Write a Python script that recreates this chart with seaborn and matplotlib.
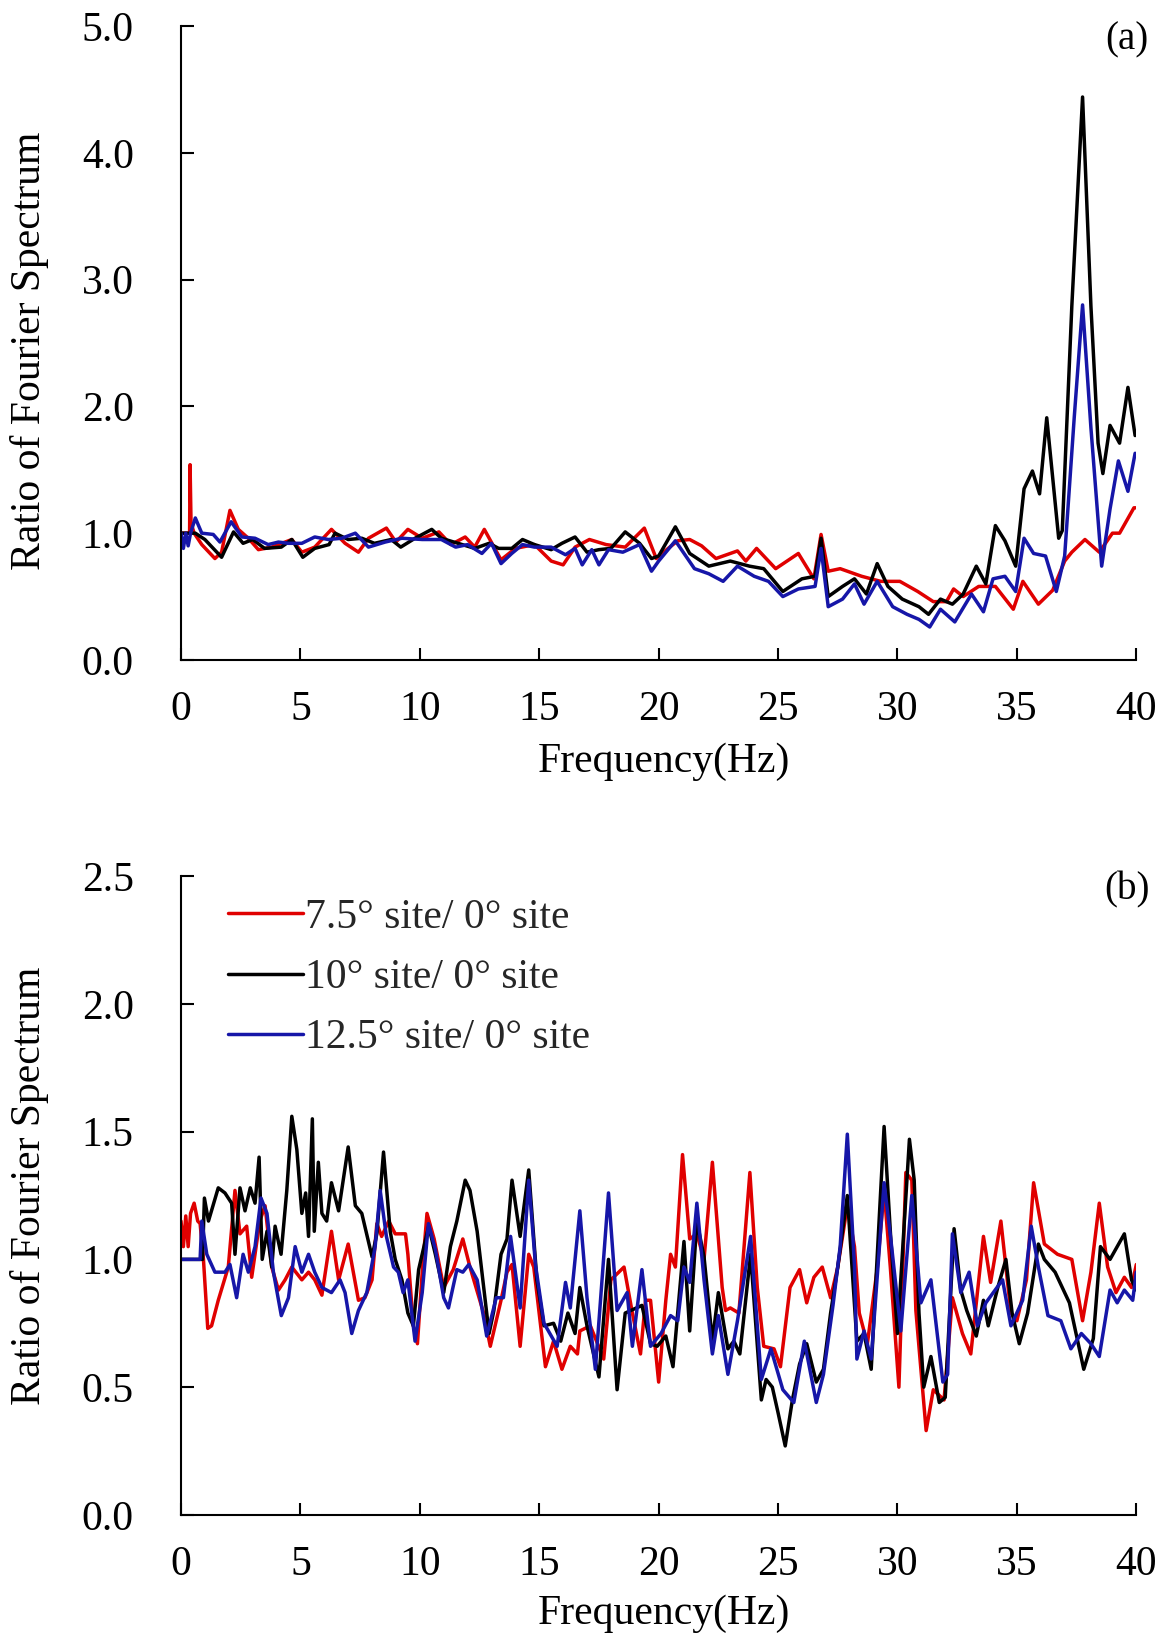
import numpy as np
import pandas as pd
import matplotlib
matplotlib.use("Agg")
import matplotlib.pyplot as plt
import seaborn as sns

# ---------------- data ----------------
series_names = ["7.5\u00b0 site/ 0\u00b0 site", "10\u00b0 site/ 0\u00b0 site", "12.5\u00b0 site/ 0\u00b0 site"]
series_colors = ["#e00000", "#000000", "#1616a8"]

# panel (a)
a_red_f = [0, 0.36, 0.38, 0.42, 0.55, 0.87, 1.42, 1.7, 2.05, 2.4, 2.82, 3.24, 3.8, 4.64, 5.06, 5.6, 6.3, 6.87, 7.43, 7.85,
           8.6, 9.0, 9.5, 10.1, 10.8, 11.3, 11.9, 12.3, 12.7, 13.4, 14.0, 14.8, 15.5, 16.0, 16.5, 17.1, 17.8, 18.6, 19.4, 19.9,
           20.4, 20.8, 21.3, 21.8, 22.4, 23.3, 23.65, 24.1, 24.9, 25.85, 26.5, 26.8, 27.1, 27.6, 28.5, 29.3, 30.1, 30.85, 31.5,
           32.05, 32.35, 32.75, 33.4, 34.1, 34.85, 35.25, 35.9, 36.5, 37.0, 37.3, 37.85, 38.45, 39.0, 39.3, 39.9, 40.0]
a_red_v = [1.0, 1.0, 1.54, 1.08, 1.0, 0.91, 0.80, 0.85, 1.18, 1.03, 0.96, 0.87, 0.89, 0.95, 0.85, 0.89, 1.03, 0.92, 0.85, 0.96,
           1.04, 0.93, 1.03, 0.96, 1.01, 0.91, 0.97, 0.89, 1.03, 0.79, 0.88, 0.91, 0.78, 0.75, 0.89, 0.95, 0.91, 0.89, 1.04, 0.80,
           0.88, 0.94, 0.95, 0.90, 0.80, 0.86, 0.78, 0.88, 0.72, 0.84, 0.64, 0.99, 0.70, 0.72, 0.66, 0.62, 0.62, 0.54, 0.46,
           0.46, 0.56, 0.50, 0.58, 0.58, 0.40, 0.62, 0.44, 0.55, 0.78, 0.85, 0.95, 0.85, 1.0, 1.0, 1.2, 1.2]

a_blk_f = [0, 0.6, 1.0, 1.7, 2.2, 2.6, 3.0, 3.5, 4.2, 4.64, 5.1, 5.6, 6.2, 6.45, 7.0, 7.57, 8.1, 8.8, 9.2, 9.8, 10.5, 10.9,
           11.6, 12.3, 12.9, 13.3, 13.85, 14.3, 14.8, 15.5, 15.95, 16.5, 17.0, 17.5, 18.0, 18.6, 19.2, 19.7, 20.0, 20.7, 21.3,
           22.1, 23.0, 23.8, 24.4, 25.2, 26.0, 26.55, 26.8, 27.1, 27.7, 28.2, 28.7, 29.15, 29.6, 30.2, 30.9, 31.3, 31.8, 32.3,
           32.75, 33.3, 33.7, 34.1, 34.5, 34.95, 35.3, 35.65, 35.95, 36.25, 36.75, 36.9, 37.3, 37.75, 38.1, 38.4, 38.6, 38.9,
           39.3, 39.65, 39.95]
a_blk_v = [1.0, 1.0, 0.95, 0.81, 1.01, 0.92, 0.95, 0.88, 0.89, 0.95, 0.81, 0.88, 0.91, 1.0, 0.95, 0.96, 0.92, 0.95, 0.89, 0.96,
           1.03, 0.96, 0.92, 0.88, 0.92, 0.88, 0.88, 0.95, 0.91, 0.87, 0.92, 0.97, 0.85, 0.87, 0.88, 1.01, 0.92, 0.80, 0.82, 1.05,
           0.84, 0.74, 0.78, 0.74, 0.72, 0.54, 0.64, 0.66, 0.96, 0.50, 0.58, 0.64, 0.52, 0.76, 0.58, 0.48, 0.42, 0.36, 0.48, 0.44,
           0.52, 0.74, 0.60, 1.06, 0.94, 0.74, 1.35, 1.49, 1.31, 1.91, 0.96, 1.02, 2.79, 4.44, 2.79, 1.71, 1.47, 1.85, 1.71, 2.15,
           1.77]

a_blu_f = [0, 0.1, 0.2, 0.3, 0.4, 0.6, 0.87, 1.35, 1.63, 2.1, 2.55, 3.1, 3.65, 4.08, 4.5, 5.06, 5.6, 6.17, 6.73, 7.3, 7.85,
           8.55, 9.25, 10.1, 10.9, 11.5, 12.0, 12.6, 13.0, 13.4, 13.85, 14.3, 14.8, 15.5, 16.1, 16.5, 16.8, 17.2, 17.5, 17.9,
           18.5, 19.2, 19.7, 20.0, 20.7, 21.5, 22.1, 22.7, 23.3, 24.0, 24.6, 25.2, 25.85, 26.55, 26.8, 27.1, 27.7, 28.2, 28.6,
           29.15, 29.8, 30.4, 30.9, 31.35, 31.8, 32.4, 33.1, 33.6, 34.0, 34.5, 34.95, 35.3, 35.7, 36.2, 36.65, 37.0, 37.4,
           37.75, 38.1, 38.55, 38.9, 39.25, 39.65, 39.95]
a_blu_v = [1.0, 0.88, 1.0, 0.90, 1.0, 1.12, 1.0, 0.99, 0.93, 1.09, 0.97, 0.96, 0.91, 0.93, 0.92, 0.92, 0.97, 0.95, 0.96, 1.0,
           0.89, 0.93, 0.96, 0.95, 0.95, 0.89, 0.91, 0.84, 0.92, 0.76, 0.84, 0.91, 0.89, 0.89, 0.83, 0.88, 0.75, 0.87, 0.75, 0.87,
           0.85, 0.91, 0.70, 0.78, 0.94, 0.72, 0.68, 0.62, 0.74, 0.66, 0.62, 0.50, 0.56, 0.58, 0.88, 0.42, 0.48, 0.60, 0.44,
           0.62, 0.42, 0.36, 0.32, 0.26, 0.40, 0.30, 0.52, 0.38, 0.64, 0.66, 0.54, 0.96, 0.84, 0.82, 0.54, 0.82, 1.91,
           2.80, 1.83, 0.74, 1.19, 1.57, 1.33, 1.63]

# panel (b)
b_red_f = [0, 0.1, 0.2, 0.3, 0.4, 0.55, 0.7, 0.8, 0.94, 1.12, 1.28, 1.56, 1.98, 2.26, 2.47, 2.75, 2.96, 3.3, 3.52, 3.8, 4.08,
           4.36, 4.64, 5.06, 5.34, 5.6, 5.9, 6.3, 6.6, 7.0, 7.43, 7.7, 8.0, 8.2, 8.4, 8.7, 8.97, 9.4, 9.5, 9.73, 9.9, 10.1, 10.3,
           10.6, 11.0, 11.4, 11.8, 12.1, 12.67, 12.95, 13.4, 13.65, 13.86, 14.2, 14.56, 14.77, 15.26, 15.6, 15.95, 16.3, 16.6,
           16.7, 17.14, 17.4, 17.7, 18.0, 18.55, 18.9, 19.24, 19.45, 19.66, 20.0, 20.3, 20.5, 20.7, 21.0, 21.3, 21.6, 21.9,
           22.25, 22.66, 22.8, 23.0, 23.36, 23.82, 24.13, 24.4, 24.83, 25.1, 25.5, 25.9, 26.2, 26.5, 26.85, 27.2, 27.5, 27.9,
           28.2, 28.4, 28.74, 29.16, 29.44, 29.7, 30.06, 30.35, 30.6, 30.77, 31.2, 31.5, 31.95, 32.3, 32.72, 33.07, 33.6, 33.9,
           34.33, 34.75, 35.0, 35.4, 35.7, 36.15, 36.7, 37.3, 37.75, 38.1, 38.45, 38.8, 39.15, 39.5, 39.8, 40.0]
b_red_v = [1.15, 1.05, 1.17, 1.05, 1.18, 1.22, 1.15, 1.14, 1.0, 0.73, 0.74, 0.84, 0.97, 1.27, 1.10, 1.13, 0.93, 1.15, 1.21, 0.97,
           0.88, 0.92, 0.97, 0.92, 0.95, 0.92, 0.86, 1.11, 0.92, 1.06, 0.84, 0.85, 0.92, 1.14, 1.09, 1.15, 1.10, 1.10, 1.02, 0.74,
           0.67, 0.95, 1.18, 1.08, 0.89, 0.96, 1.08, 0.97, 0.79, 0.66, 0.84, 0.95, 0.98, 0.66, 1.02, 0.97, 0.58, 0.68, 0.57,
           0.66, 0.63, 0.72, 0.74, 0.68, 0.61, 0.92, 0.97, 0.79, 0.63, 0.84, 0.84, 0.52, 0.84, 1.02, 0.97, 1.41, 1.08, 1.10,
           1.0, 1.38, 0.89, 0.80, 0.81, 0.79, 1.34, 0.89, 0.66, 0.65, 0.58, 0.89, 0.96, 0.83, 0.93, 0.97, 0.85, 0.97, 1.21,
           1.05, 0.79, 0.67, 0.97, 1.27, 0.97, 0.50, 1.34, 1.31, 0.80, 0.33, 0.49, 0.45, 0.85, 0.71, 0.63, 1.09, 0.91, 1.15,
           0.79, 0.76, 0.92, 1.30, 1.06, 1.02, 1.0, 0.76, 0.95, 1.22, 0.97, 0.87, 0.93, 0.89, 0.98]

b_blk_f = [0, 0.9, 0.98, 1.15, 1.56, 1.84, 2.12, 2.26, 2.47, 2.68, 2.9, 3.1, 3.27, 3.4, 3.6, 3.8, 3.94, 4.19, 4.43, 4.64, 4.85,
           5.06, 5.22, 5.34, 5.5, 5.58, 5.75, 5.9, 6.1, 6.3, 6.6, 7.0, 7.3, 7.57, 8.0, 8.2, 8.48, 8.76, 8.97, 9.25, 9.5, 9.73,
           9.95, 10.37, 10.65, 11.0, 11.28, 11.55, 11.9, 12.1, 12.4, 12.9, 13.1, 13.4, 13.65, 13.86, 14.2, 14.56, 14.9, 15.2,
           15.6, 15.9, 16.2, 16.5, 16.7, 17.0, 17.5, 17.9, 18.26, 18.6, 19.3, 19.66, 19.94, 20.3, 20.6, 21.06, 21.3, 21.6,
           21.9, 22.25, 22.5, 22.9, 23.15, 23.4, 23.85, 24.3, 24.5, 24.76, 25.0, 25.3, 25.6, 25.9, 26.2, 26.6, 26.9, 27.2,
           27.5, 27.9, 28.3, 28.6, 28.9, 29.44, 29.72, 30.0, 30.5, 30.7, 30.9, 31.1, 31.4, 31.75, 32.0, 32.37, 32.65, 32.9,
           33.3, 33.6, 33.8, 34.2, 34.54, 34.8, 35.1, 35.45, 35.9, 36.15, 36.6, 37.2, 37.8, 38.2, 38.5, 38.9, 39.5, 39.8, 40.0]
b_blk_v = [1.0, 1.0, 1.24, 1.15, 1.28, 1.26, 1.22, 1.02, 1.28, 1.19, 1.28, 1.22, 1.40, 1.0, 1.11, 0.97, 1.13, 1.02, 1.27, 1.56,
           1.43, 1.18, 1.26, 1.09, 1.55, 1.11, 1.38, 1.18, 1.15, 1.30, 1.19, 1.44, 1.21, 1.18, 1.01, 1.10, 1.42, 1.11, 1.0, 0.92,
           0.79, 0.74, 0.96, 1.13, 1.02, 0.87, 1.05, 1.15, 1.31, 1.27, 1.11, 0.71, 0.80, 1.02, 1.08, 1.31, 1.09, 1.35, 0.92, 0.74,
           0.75, 0.68, 0.79, 0.71, 0.89, 0.74, 0.54, 1.0, 0.49, 0.79, 0.82, 0.67, 0.66, 0.70, 0.58, 1.07, 0.72, 1.15,
           1.01, 0.68, 0.87, 0.65, 0.68, 0.63, 1.02, 0.45, 0.53, 0.50, 0.40, 0.27, 0.45, 0.59, 0.67, 0.52, 0.57, 0.79,
           0.97, 1.25, 0.68, 0.71, 0.57, 1.52, 1.08, 0.71, 1.47, 1.31, 0.79, 0.50, 0.62, 0.44, 0.46, 1.12, 0.88, 0.80,
           0.70, 0.84, 0.74, 0.89, 1.0, 0.79, 0.67, 0.79, 1.06, 1.0, 0.95, 0.83, 0.57, 0.69, 1.05, 1.0, 1.10, 0.92, 0.88]

b_blu_f = [0, 0.8, 0.87, 1.08, 1.42, 1.84, 2.05, 2.33, 2.6, 2.82, 3.1, 3.35, 3.6, 3.87, 4.2, 4.5, 4.78, 5.06, 5.34, 5.6, 5.9,
           6.3, 6.66, 6.87, 7.15, 7.43, 7.78, 8.13, 8.34, 8.6, 8.9, 9.1, 9.3, 9.5, 9.8, 10.1, 10.36, 10.65, 11.0, 11.2, 11.55,
           11.8, 12.05, 12.4, 12.8, 13.2, 13.5, 13.8, 14.2, 14.56, 14.84, 15.2, 15.75, 16.1, 16.3, 16.7, 17.0, 17.35, 17.9,
           18.26, 18.68, 18.9, 19.3, 19.66, 20.1, 20.5, 20.8, 21.06, 21.3, 21.6, 21.9, 22.25, 22.5, 22.9, 23.3, 23.85, 24.3,
           24.7, 25.2, 25.66, 26.1, 26.6, 26.9, 27.3, 27.6, 27.9, 28.2, 28.3, 28.6, 28.9, 29.44, 29.72, 30.14, 30.6, 30.98,
           31.4, 31.9, 32.1, 32.3, 32.65, 33.0, 33.35, 33.7, 34.4, 34.75, 35.24, 35.6, 35.9, 36.3, 36.84, 37.26, 37.7, 38.1,
           38.45, 38.9, 39.2, 39.5, 39.85, 40.0]
b_blu_v = [1.0, 1.0, 1.15, 1.02, 0.95, 0.95, 0.98, 0.85, 1.02, 0.95, 1.05, 1.24, 1.18, 0.95, 0.78, 0.85, 1.05, 0.95, 1.02, 0.95,
           0.89, 0.87, 0.92, 0.87, 0.71, 0.80, 0.87, 1.05, 1.27, 1.09, 0.97, 0.95, 0.87, 0.92, 0.68, 0.87, 1.14, 1.04, 0.85, 0.81,
           0.96, 0.95, 0.98, 0.92, 0.70, 0.85, 0.85, 1.09, 0.81, 1.31, 0.98, 0.75, 0.66, 0.91, 0.81, 1.19, 0.85, 0.57, 1.26,
           0.80, 0.87, 0.66, 0.96, 0.66, 0.71, 0.78, 0.76, 0.97, 0.91, 1.22, 0.92, 0.63, 0.78, 0.55, 0.76, 1.09, 0.53,
           0.65, 0.49, 0.44, 0.68, 0.44, 0.55, 0.82, 1.05, 1.49, 0.97, 0.61, 0.72, 0.61, 1.30, 1.08, 0.72, 1.25, 0.83,
           0.92, 0.52, 0.55, 1.10, 0.87, 0.95, 0.74, 0.83, 0.92, 0.74, 0.84, 1.13, 0.97, 0.78, 0.76, 0.65, 0.71, 0.67,
           0.62, 0.88, 0.83, 0.88, 0.84, 0.95]

x_ticks = [0, 5, 10, 15, 20, 25, 30, 35, 40]
a_y_ticks = [0.0, 1.0, 2.0, 3.0, 4.0, 5.0]
b_y_ticks = [0.0, 0.5, 1.0, 1.5, 2.0, 2.5]
x_label = "Frequency(Hz)"
y_label = "Ratio of Fourier Spectrum"
panel_tags = ["(a)", "(b)"]


def make_df(fs, vs):
    parts = []
    for name, f, v in zip(series_names, fs, vs):
        parts.append(pd.DataFrame({"f": f, "v": v, "series": name}))
    return pd.concat(parts, ignore_index=True)


df_a = make_df([a_red_f, a_blk_f, a_blu_f], [a_red_v, a_blk_v, a_blu_v])
df_b = make_df([b_red_f, b_blk_f, b_blu_f], [b_red_v, b_blk_v, b_blu_v])

# ---------------- style ----------------
sns.set_theme(style="ticks")
plt.rcParams["font.family"] = ["Liberation Serif", "DejaVu Serif"]

FS = 30
LW = 2.5
fig = plt.figure(figsize=(11.7, 16.36), dpi=100)
ax1 = fig.add_axes([0.1547, 0.5966, 0.8165, 0.3875])
ax2 = fig.add_axes([0.1547, 0.0740, 0.8165, 0.3905])
palette = dict(zip(series_names, series_colors))

for ax, df, yt, tag, show_leg in [(ax1, df_a, a_y_ticks, panel_tags[0], False),
                                  (ax2, df_b, b_y_ticks, panel_tags[1], True)]:
    sns.lineplot(data=df, x="f", y="v", hue="series", palette=palette, sort=False,
                 estimator=None, linewidth=LW, ax=ax, legend=show_leg)
    ax.set_xlim(0, 40)
    ax.set_ylim(yt[0], yt[-1])
    ax.set_xticks(x_ticks)
    ax.set_xticklabels([str(t) for t in x_ticks])
    ax.set_yticks(yt)
    ax.set_yticklabels([f"{t:.1f}" for t in yt])
    for s in ["top", "right"]:
        ax.spines[s].set_visible(False)
    for s in ["left", "bottom"]:
        ax.spines[s].set_color("black")
        ax.spines[s].set_linewidth(1.5)
    ax.tick_params(axis="both", direction="in", length=9, width=1.5, colors="black", labelsize=FS)
    ax.tick_params(axis="y", pad=34)
    ax.tick_params(axis="x", pad=22)
    ax.set_xlabel(x_label, fontsize=FS, color="black")
    ax.set_ylabel(y_label, fontsize=FS, color="black")
    ax.text(0.99, 0.978, tag, transform=ax.transAxes, fontsize=FS - 2, ha="center", va="center", color="black")
    ax.set_facecolor("white")

ax1.xaxis.set_label_coords(0.506, -0.161)
ax1.xaxis.label.set_va("center")
ax2.xaxis.set_label_coords(0.506, -0.155)
ax2.xaxis.label.set_va("center")
ax1.yaxis.set_label_coords(-0.159, 0.487)
ax1.yaxis.label.set_va("center")
ax2.yaxis.set_label_coords(-0.159, 0.515)
ax2.yaxis.label.set_va("center")

handles, labels = ax2.get_legend_handles_labels()
leg = ax2.legend(handles, labels, loc="upper left", bbox_to_anchor=(0.0487, 0.965), frameon=False,
                 fontsize=FS, borderpad=0, borderaxespad=0, handlelength=1.8, handletextpad=0.05,
                 labelspacing=0.52)
for h in leg.get_lines():
    h.set_linewidth(LW)

fig.savefig("out.png", dpi=100, facecolor="white")
